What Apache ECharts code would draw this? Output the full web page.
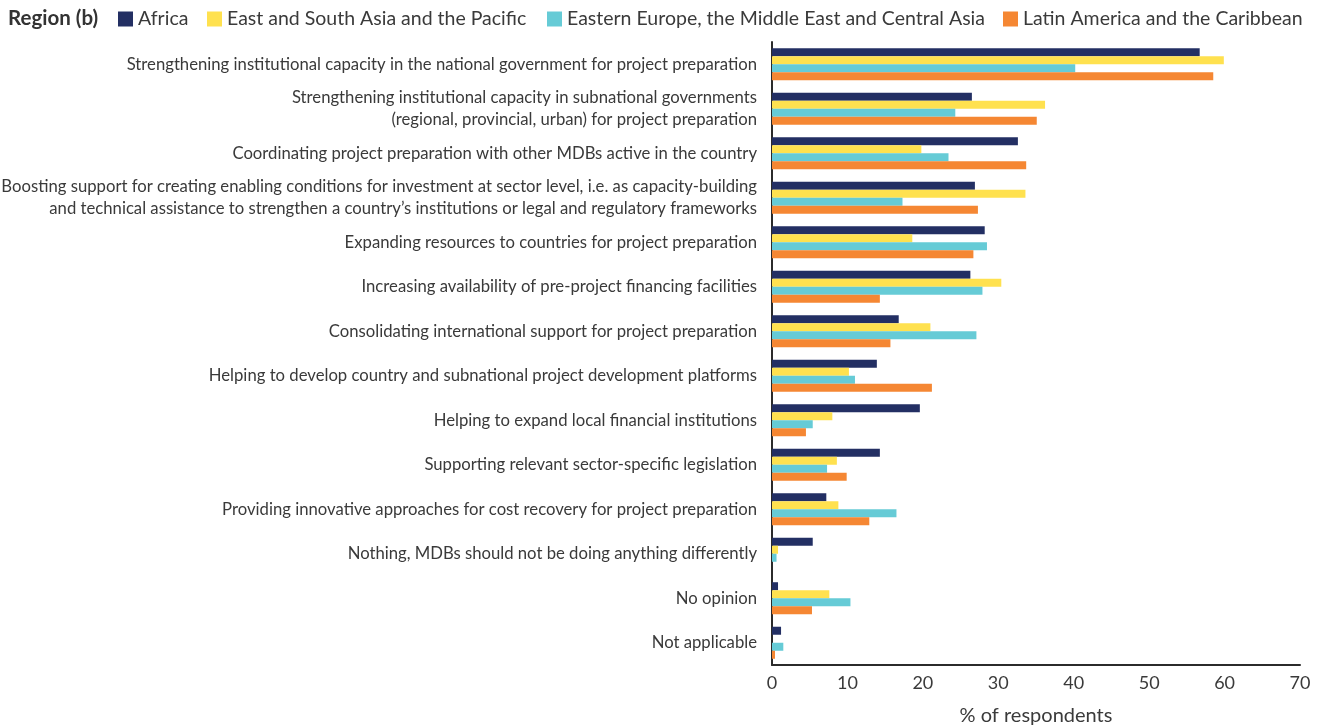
<!DOCTYPE html>
<html>
<head>
<meta charset="utf-8">
<title>Region (b)</title>
<script src="https://cdn.jsdelivr.net/npm/echarts@6/dist/echarts.min.js"></script>
<style>
  html, body { margin: 0; padding: 0; background: #ffffff; }
  #chart { width: 1322px; height: 726px; }
</style>
</head>
<body>
<div id="chart"></div>
<script>
// Survey answers, listed top to bottom
const categories = [
  'Strengthening institutional capacity in the national government for project preparation',
  'Strengthening institutional capacity in subnational governments\n(regional, provincial, urban) for project preparation',
  'Coordinating project preparation with other MDBs active in the country',
  'Boosting support for creating enabling conditions for investment at sector level, i.e. as capacity-building\nand technical assistance to strengthen a country\u2019s institutions or legal and regulatory frameworks',
  'Expanding resources to countries for project preparation',
  'Increasing availability of pre-project financing facilities',
  'Consolidating international support for project preparation',
  'Helping to develop country and subnational project development platforms',
  'Helping to expand local financial institutions',
  'Supporting relevant sector-specific legislation',
  'Providing innovative approaches for cost recovery for project preparation',
  'Nothing, MDBs should not be doing anything differently',
  'No opinion',
  'Not applicable'
];

// % of respondents per region
const africa        = [56.7, 26.5, 32.6, 26.9, 28.2, 26.3, 16.8, 13.9, 19.6, 14.3, 7.2, 5.4, 0.8, 1.2];
const eastSouthAsia = [59.9, 36.2, 19.8, 33.6, 18.6, 30.4, 21.0, 10.2, 8.0, 8.6, 8.8, 0.8, 7.6, 0];
const easternEurope = [40.2, 24.3, 23.4, 17.3, 28.5, 27.9, 27.1, 11.0, 5.4, 7.3, 16.5, 0.6, 10.4, 1.5];
const latinAmerica  = [58.5, 35.1, 33.7, 27.3, 26.7, 14.3, 15.7, 21.2, 4.5, 9.9, 12.9, 0, 5.3, 0.4];

const seriesNames = [
  'Africa',
  'East and South Asia and the Pacific',
  'Eastern Europe, the Middle East and Central Asia',
  'Latin America and the Caribbean'
];
const seriesData = [africa, eastSouthAsia, easternEurope, latinAmerica];
const colors = ['#232f63', '#ffe14f', '#66cbd6', '#f58733'];

const xTicks = { min: 0, max: 70, interval: 10 };

const FONT = 'Lato, "Noto Sans", sans-serif';
const TEXT = '#3a3a3a';

const chart = echarts.init(document.getElementById('chart'), null, { renderer: 'canvas' });

// One legend block per region so each entry sits at its own spot
const legendLefts = [118, 207, 547, 1003];
const legends = seriesNames.map((name, i) => ({
  data: [name],
  left: legendLefts[i],
  top: 9,
  padding: 0,
  itemWidth: 15,
  itemHeight: 15,
  icon: 'rect',
  selectedMode: false,
  textStyle: { fontFamily: FONT, fontSize: 19.5, color: TEXT, padding: [0, 0, 0, 0] }
}));

chart.setOption({
  animation: false,
  color: colors,
  title: {
    text: 'Region (b)',
    left: 8,
    top: 8,
    padding: 0,
    textStyle: { fontFamily: FONT, fontSize: 20.5, fontWeight: 'bold', color: '#333333' }
  },
  legend: legends,
  grid: { left: 772, right: 22, top: 42, bottom: 61, outerBoundsMode: 'none', containLabel: false },
  xAxis: {
    type: 'value',
    min: xTicks.min,
    max: xTicks.max,
    interval: xTicks.interval,
    name: '% of respondents',
    nameLocation: 'middle',
    nameGap: 41,
    nameTextStyle: { fontFamily: FONT, fontSize: 20, color: TEXT },
    axisLine: { show: true, lineStyle: { color: '#2b2b2b', width: 2 } },
    axisTick: { show: false },
    splitLine: { show: false },
    axisLabel: { fontFamily: FONT, fontSize: 18, color: TEXT, margin: 9 }
  },
  yAxis: {
    type: 'category',
    data: categories,
    inverse: true,
    axisLine: { show: true, lineStyle: { color: '#2b2b2b', width: 2 } },
    axisTick: { show: false },
    axisLabel: {
      fontFamily: FONT,
      fontSize: 16.7,
      color: TEXT,
      margin: 15,
      lineHeight: 22,
      align: 'right'
    }
  },
  series: seriesNames.map((name, i) => ({
    name: name,
    type: 'bar',
    data: seriesData[i],
    barGap: '0%',
    barCategoryGap: '28%',
    itemStyle: { color: colors[i] }
  }))
});
</script>
</body>
</html>
